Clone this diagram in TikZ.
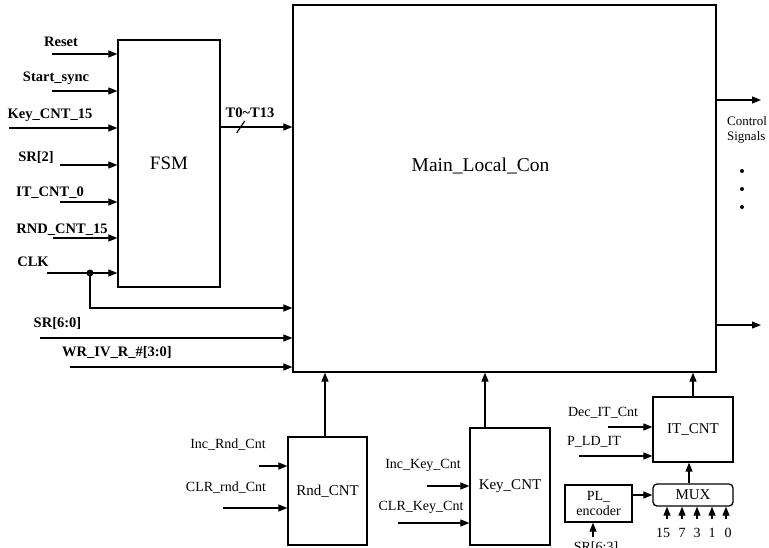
\documentclass[tikz,border=0pt]{standalone}
\usepackage{fontspec}
\setmainfont{Liberation Serif}
\usetikzlibrary{arrows.meta,positioning,calc}

\begin{document}
\begin{tikzpicture}[x=1pt, y=-1pt,
    block/.style={draw, line width=1.3pt, inner sep=0pt, align=center, font=\fontsize{15}{16}\selectfont},
    arrow/.style={-{Triangle[length=9pt,width=7pt]}, line width=1.2pt},
    sig/.style={font=\bfseries\fontsize{14.5}{16}\selectfont, inner sep=0pt},
    lbl/.style={font=\fontsize{14}{16}\selectfont, inner sep=0pt},
    dot/.style={circle, fill, inner sep=0pt, minimum size=#1}
]
    \useasboundingbox (0,0) rectangle (769,547);

    % blocks
    \node[block, minimum width=423pt, minimum height=367pt] (main) at (504.5,188.5) {};
    \node[font=\fontsize{19.5}{21}\selectfont] at ([xshift=-24pt,yshift=23pt]main.center) {Main\_Local\_Con};
    \node[block, minimum width=102pt, minimum height=247pt, font=\fontsize{19}{21}\selectfont] (fsm) at (169,163.5) {FSM};
    \node[block, minimum width=79pt, minimum height=108pt] (rnd) at (327.5,491) {Rnd\_CNT};
    \node[block, minimum width=80pt, minimum height=117pt] (key) at (510,486.5) {Key\_CNT};
    \node[block, minimum width=80pt, minimum height=65pt] (itcnt) at (693,429.5) {IT\_CNT};
    \node[block, minimum width=80pt, minimum height=22pt, rounded corners=4pt] (mux) at (693,495) {MUX};
    \node[block, minimum width=67pt, minimum height=37pt, font=\fontsize{14}{15}\selectfont] (enc) at (598.5,503.5) {PL\_\\encoder};

    % FSM inputs
    \foreach \name/\y/\xs/\lx/\ly in {Reset/54/52/61/42, Start\_sync/91/52/56/78, Key\_CNT\_15/128/9/50/115,
        SR[2]/165/60/36/157, IT\_CNT\_0/202/60/50/193, RND\_CNT\_15/238/53/62/230, CLK/273/47/33/262} {
        \coordinate (in\y) at (\xs,\y);
        \draw[arrow] (in\y) -- (in\y -| fsm.west);
        \node[sig] at (\lx,\ly) {\name};
    }
    \node[dot=7pt] (clkdot) at (90,273) {};
    \coordinate (clkturn) at (90,308);
    \draw[arrow] (clkdot.center) -- (clkturn) -- (clkturn -| main.west);

    % other inputs of the main block
    \coordinate (srin) at (40,338);
    \draw[arrow] (srin) -- (srin -| main.west);
    \node[sig] at (57.5,323) {SR[6:0]};
    \coordinate (wrin) at (70,367);
    \draw[arrow] (wrin) -- (wrin -| main.west);
    \node[sig] at (117,352) {WR\_IV\_R\_\#[3:0]};

    % state bus
    \coordinate (tbus) at ([yshift=36.5pt]fsm.east);
    \draw[arrow] (tbus) -- (tbus -| main.west);
    \draw[line width=1.2pt] (tbus) ++(16,6) -- ++(8,-12);
    \node[sig] at (250,113) {T0\textasciitilde T13};

    % control outputs
    \coordinate (out1) at (761,100);
    \coordinate (out2) at (761,325);
    \draw[arrow] (out1 -| main.east) -- (out1);
    \draw[arrow] (out2 -| main.east) -- (out2);
    \node[font=\fontsize{13}{14.5}\selectfont, align=left, inner sep=0pt] at (747,130) {Control\\Signals};
    \foreach \y in {171,189,207}
        \node[dot=4pt] at (742,\y) {};

    % counters
    \draw[arrow] ([xshift=-2.5pt]rnd.north) -- ([xshift=-2.5pt]rnd.north |- main.south);
    \draw[arrow] ([xshift=-25pt]key.north) -- ([xshift=-25pt]key.north |- main.south);
    \draw[arrow] (itcnt.north) -- (itcnt.north |- main.south);
    \draw[arrow] ([xshift=-4pt]mux.north) -- ([xshift=-4pt]itcnt.south);
    \draw[arrow] (enc.east |- mux.west) -- (mux.west);

    \foreach \name/\y/\xs/\lx/\ly/\blk in {Inc\_Rnd\_Cnt/466/259/228/445/rnd, CLR\_rnd\_Cnt/508/223/226/488/rnd,
        Inc\_Key\_Cnt/486/427/423/465/key, CLR\_Key\_Cnt/523/398/421/507/key,
        Dec\_IT\_Cnt/427/608/603/413/itcnt, P\_LD\_IT/456/579/594/442/itcnt} {
        \coordinate (c\y) at (\xs,\y);
        \draw[arrow] (c\y) -- (c\y -| \blk.west);
        \node[lbl] at (\lx,\ly) {\name};
    }

    % MUX inputs
    \foreach \x/\v/\lx in {667/15/663, 682/7/682, 697/3/697, 712/1/712, 726/0/728} {
        \coordinate (m\v) at (\x,519);
        \draw[arrow] (m\v) -- (m\v |- mux.south);
        \node[lbl] at (\lx,533) {\v};
    }
    \coordinate (encin) at (593,537);
    \draw[arrow] (encin) -- (encin |- enc.south);
    \node[lbl, anchor=north] at (596,542) {SR[6:3]};
\end{tikzpicture}
\end{document}
